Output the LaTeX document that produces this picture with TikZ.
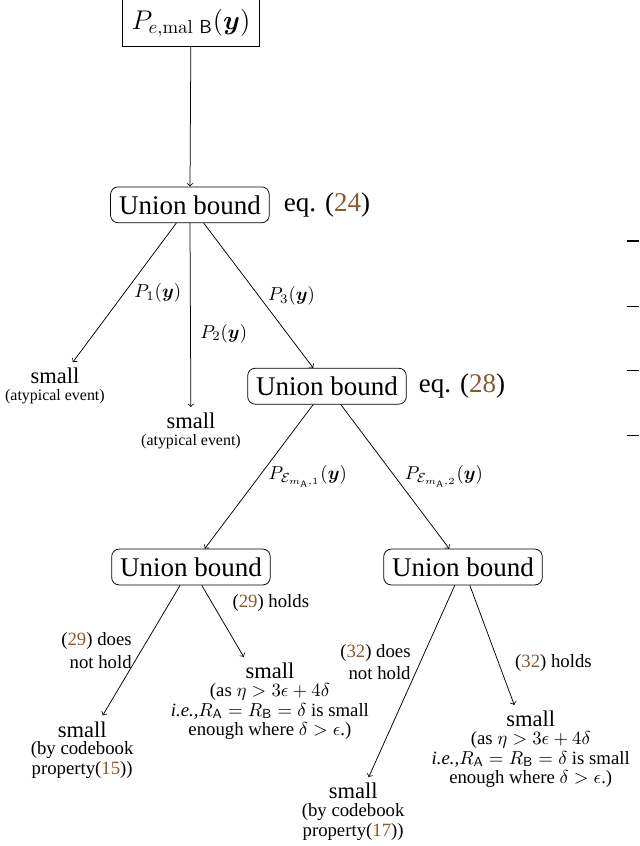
\documentclass[tikz,border=0pt]{standalone}
\usepackage{amsmath}
\usepackage[no-math]{fontspec}
\setmainfont{Liberation Serif}
\usepackage{tikz}

\definecolor{refbrown}{RGB}{135,90,45}
\newcommand{\eqnum}[1]{(\textcolor{refbrown}{#1})}
\newcommand{\by}{\boldsymbol{y}}

\tikzset{
  ubox/.style={draw, rounded corners=4pt, font=\Large, inner sep=4.5pt},
  smallres/.style={align=center, inner sep=3pt},
  elabel/.style={inner sep=5pt, font=\normalsize},
  stub/.style={line width=0.5pt}
}

\begin{document}
\begin{tikzpicture}
\useasboundingbox (0,0) rectangle (11.98,-15.86);
% top probability
\node[draw, font=\Large, inner sep=5pt] (PE) at (3.58,-0.43) {$P_{e,\mathrm{mal}\ \mathsf{B}}(\by)$};
% first union bound
\node[ubox] (UB1) at (3.56,-3.84) {Union bound};
\node[font=\Large] (EQ1) at (6.13,-3.84) {eq. \eqnum{24}};
\node[smallres] (S1) at (1.03,-7.24) {{\large small}\\[-3pt]{\fontsize{8.5}{9}\selectfont (atypical event)}};
\node[smallres] (S2) at (3.58,-8.08) {{\large small}\\[-3pt]{\fontsize{8.5}{9}\selectfont (atypical event)}};
% second union bound
\node[ubox] (UB2) at (6.13,-7.24) {Union bound};
\node[font=\Large] (EQ2) at (8.66,-7.24) {eq. \eqnum{28}};
% third level
\node[ubox] (UB3) at (3.58,-10.63) {Union bound};
\node[ubox] (UB4) at (8.68,-10.63) {Union bound};
\node[smallres] (S3) at (1.54,-14.06) {{\large small}\\[-2.5pt](by codebook\\[-1.5pt]property\eqnum{15})};
\node[smallres] (S4) at (5.06,-13.15) {{\large small}\\[-2.5pt](as $\eta > 3\epsilon + 4\delta$\\[-1.5pt]\textit{i.e.,}$R_{\mathsf{A}} = R_{\mathsf{B}} = \delta$ is small\\[-1.5pt]enough where $\delta > \epsilon$.)};
\node[smallres] (S5) at (6.62,-15.22) {{\large small}\\[-2.5pt](by codebook\\[-1.5pt]property\eqnum{17})};
\node[smallres] (S6) at (9.95,-14.05) {{\large small}\\[-2.5pt](as $\eta > 3\epsilon + 4\delta$\\[-1.5pt]\textit{i.e.,}$R_{\mathsf{A}} = R_{\mathsf{B}} = \delta$ is small\\[-1.5pt]enough where $\delta > \epsilon$.)};

\draw[->] (PE) -- (UB1);
\draw[->] (UB1) -- (S1) node[elabel, midway, right] {$P_1(\by)$};
\draw[->] (UB1) -- (S2) node[elabel, pos=0.6, right] {$P_2(\by)$};
\draw[->] (UB1) -- (UB2) node[elabel, midway, right] {$P_3(\by)$};
\draw[->] (UB2) -- (UB3) node[elabel, midway, right] {$P_{\mathcal{E}_{m_{\mathsf{A}},1}}(\by)$};
\draw[->] (UB2) -- (UB4) node[elabel, midway, right] {$P_{\mathcal{E}_{m_{\mathsf{A}},2}}(\by)$};
\draw[->] (UB3) -- (S3) node[elabel, midway, left, align=right] {\eqnum{29} does\\not hold};
\draw[->] (UB3) -- (S4) node[elabel, midway, above right] {\eqnum{29} holds};
\draw[->] (UB4) -- (S5) node[elabel, pos=0.4, left, align=right] {\eqnum{32} does\\not hold};
\draw[->] (UB4) -- (S6) node[elabel, pos=0.8, above right] {\eqnum{32} holds};

% rule ends at the right margin
\draw[stub, line width=0.9pt] (11.75,-4.52) -- (11.98,-4.52);
\draw[stub] (11.75,-5.74) -- (11.98,-5.74);
\draw[stub] (11.75,-6.95) -- (11.98,-6.95);
\draw[stub] (11.75,-8.17) -- (11.98,-8.17);
\end{tikzpicture}
\end{document}
